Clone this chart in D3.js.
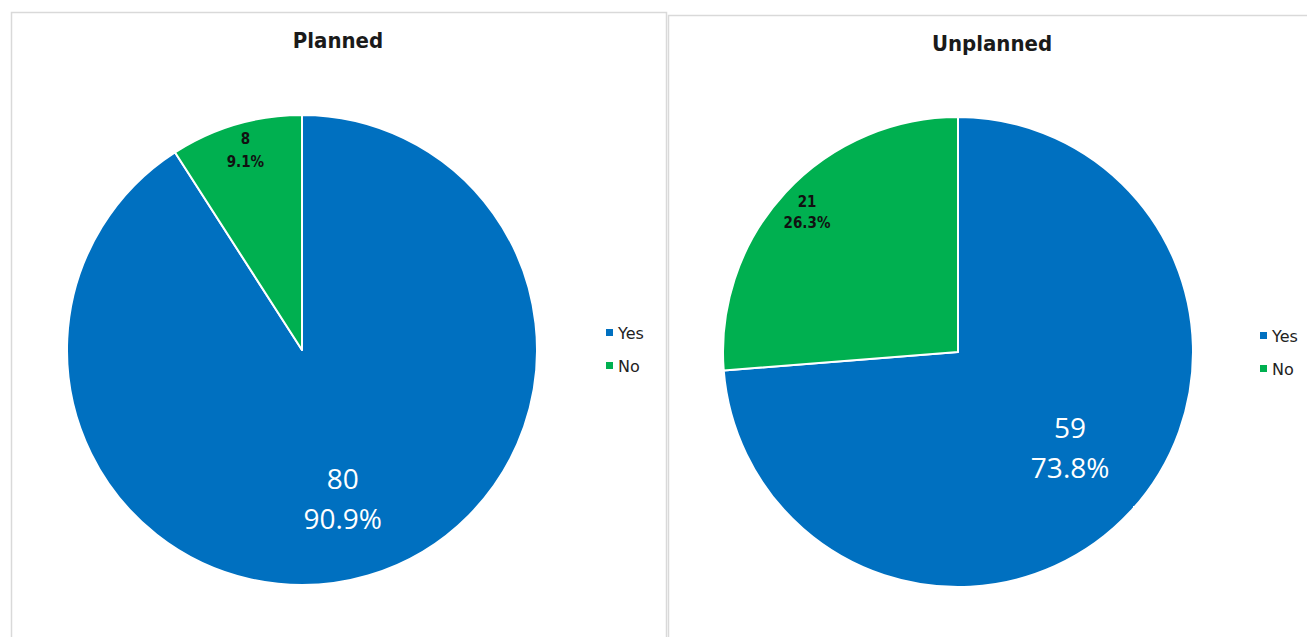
<!DOCTYPE html>
<html>
<head>
<meta charset="utf-8">
<script src="https://cdn.jsdelivr.net/npm/d3@7"></script>
<style>
  html, body { margin: 0; padding: 0; background: #fff; }
  svg { display: block; }
</style>
</head>
<body>
<svg id="chart" width="1307" height="637"></svg>
<script>
// Category names and counts for each pie
const categories = ["Yes", "No"];
const plannedValues = [80, 8];
const unplannedValues = [59, 21];
const chartTitles = ["Planned", "Unplanned"];

const colors = d3.scaleOrdinal().domain(categories).range(["#0070c0", "#00b050"]);

const svg = d3.select("#chart");

// Panel frames, pie geometry and label placement for each chart
const panels = [
  {
    title: chartTitles[0], values: plannedValues,
    frame: { x: 11, y: 12, w: 655, h: 640 },
    cx: 302, cy: 350, r: 235,
    titleX: 338, titleY: 48,
    labelR: [0.66, 0.855],
    bigDx: -3, bigDy: 0,
    legendX: 606, legendY: [333, 366],
    smallGap: 23, smallShift: -2,
    mask: { x: 406, y: 561, w: 40, h: 40 }
  },
  {
    title: chartTitles[1], values: unplannedValues,
    frame: { x: 668, y: 15, w: 700, h: 640 },
    cx: 958, cy: 352, r: 235,
    titleX: 992, titleY: 51,
    labelR: [0.615, 0.875],
    bigDx: 6, bigDy: -2,
    legendX: 1260, legendY: [336, 369],
    smallGap: 21, smallShift: 5,
    mask: { x: 1133, y: 506, w: 40, h: 40 }
  }
];

const pie = d3.pie().sort(null).value(d => d.value);

panels.forEach(p => {
  const g = svg.append("g");

  g.append("rect")
    .attr("x", p.frame.x + 0.5).attr("y", p.frame.y + 0.5)
    .attr("width", p.frame.w).attr("height", p.frame.h)
    .attr("fill", "#fff").attr("stroke", "#d9d9d9").attr("stroke-width", 1.5);

  g.append("text")
    .attr("x", p.titleX).attr("y", p.titleY)
    .attr("text-anchor", "middle")
    .attr("font-family", "'DejaVu Sans Condensed', 'DejaVu Sans', sans-serif")
    .attr("font-weight", "bold")
    .attr("font-size", 22)
    .attr("fill", "#1a1a1a")
    .text(p.title);

  const data = categories.map((c, i) => ({ category: c, value: p.values[i] }));
  const total = d3.sum(p.values);
  const arcs = pie(data);
  const arc = d3.arc().innerRadius(0).outerRadius(p.r);

  const pg = g.append("g").attr("transform", `translate(${p.cx},${p.cy})`);
  pg.selectAll("path.slice")
    .data(arcs)
    .join("path")
    .attr("class", "slice")
    .attr("d", arc)
    .attr("fill", d => colors(d.data.category))
    .attr("stroke", "#fff")
    .attr("stroke-width", 2)
    .attr("stroke-linejoin", "round");

  // Value and share labels
  arcs.forEach((a, i) => {
    const lr = p.r * p.labelR[i];
    let [lx, ly] = d3.arc().innerRadius(lr).outerRadius(lr).centroid(a);
    const pct = (a.data.value / total * 100).toFixed(1) + "%";
    const big = a.data.category === "Yes";
    if (big) { lx += p.bigDx; ly += p.bigDy; }
    const t = pg.append("text")
      .attr("text-anchor", "middle")
      .attr("fill", big ? "#fff" : "#111")
      .attr("font-family", big ? "'Open Sans', sans-serif" : "'DejaVu Sans Condensed', 'DejaVu Sans', sans-serif")
      .attr("font-weight", big ? "normal" : "bold")
      .attr("font-size", big ? 28 : 15);
    const gap = big ? 40 : p.smallGap;
    const shift = big ? 10 : p.smallShift;
    t.append("tspan").attr("x", lx).attr("y", ly - gap / 2 + shift).text(a.data.value);
    t.append("tspan").attr("x", lx).attr("y", ly + gap / 2 + shift).text(pct);
  });

  // White label box clipping the pie edge
  g.append("rect")
    .attr("x", p.mask.x).attr("y", p.mask.y)
    .attr("width", p.mask.w).attr("height", p.mask.h)
    .attr("fill", "#fff");

  // Legend
  categories.forEach((c, i) => {
    g.append("rect")
      .attr("x", p.legendX).attr("y", p.legendY[i] - 4)
      .attr("width", 7).attr("height", 7)
      .attr("fill", colors(c));
    g.append("text")
      .attr("x", p.legendX + 12).attr("y", p.legendY[i] + 6)
      .attr("font-family", "'DejaVu Sans', sans-serif")
      .attr("font-size", 16)
      .attr("fill", "#222")
      .text(c);
  });
});
</script>
</body>
</html>
